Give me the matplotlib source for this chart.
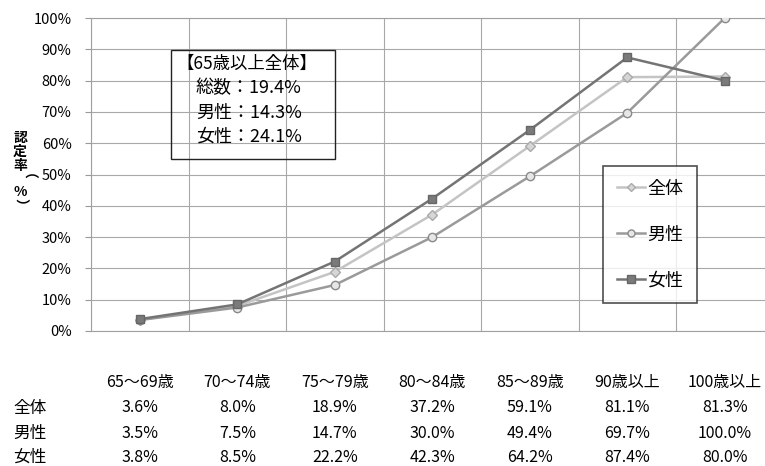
import matplotlib
matplotlib.use("Agg")
import matplotlib.pyplot as plt
from matplotlib.transforms import blended_transform_factory

plt.rcParams['font.family'] = ['Noto Sans CJK JP', 'DejaVu Sans']

categories = ["65〜69歳", "70〜74歳", "75〜79歳", "80〜84歳", "85〜89歳", "90歳以上", "100歳以上"]
series_names = ["全体", "男性", "女性"]
total = [3.6, 8.0, 18.9, 37.2, 59.1, 81.1, 81.3]
male = [3.5, 7.5, 14.7, 30.0, 49.4, 69.7, 100.0]
female = [3.8, 8.5, 22.2, 42.3, 64.2, 87.4, 80.0]
yticks = [0, 10, 20, 30, 40, 50, 60, 70, 80, 90, 100]
summary_lines = ["【65歳以上全体】", "総数：19.4%", "男性：14.3%", "女性：24.1%"]
ylabel_text = "認定率"
ylabel_unit = ["（", "%", "）"]

W, H = 765, 466
fig = plt.figure(figsize=(W / 100, H / 100), dpi=100)
left, right, top, bottom = 91, 773.5, 18, 331
ax = fig.add_axes([left / W, 1 - bottom / H, (right - left) / W, (bottom - top) / H])

x = list(range(len(categories)))
styles = [
    dict(color="#c4c4c4", marker="D", markersize=5, markerfacecolor="#d6d6d6", markeredgecolor="#aaaaaa"),
    dict(color="#9a9a9a", marker="o", markersize=6, markerfacecolor="#e6e6e6", markeredgecolor="#8a8a8a"),
    dict(color="#747474", marker="s", markersize=6, markerfacecolor="#7a7a7a", markeredgecolor="#666666"),
]
handles = []
for vals, name, st in zip([total, male, female], series_names, styles):
    h, = ax.plot(x, vals, lw=1.8, label=name, zorder=3, **st)
    handles.append(h)

ax.set_xlim(-0.5, len(categories) - 0.5)
ax.set_ylim(0, 100)
ax.set_yticks(yticks)
ax.set_yticklabels([f"{v}%" for v in yticks], fontsize=10.5)
ax.set_xticks([i + 0.5 for i in range(-1, len(categories))])
ax.set_xticklabels([])
ax.tick_params(axis="x", length=0)
ax.tick_params(axis="y", length=4, color="#999999", pad=10)
ax.grid(True, color="#a8a8a8", lw=0.8)
ax.set_axisbelow(True)
for s in ax.spines.values():
    s.set_color("#a0a0a0")
    s.set_linewidth(0.8)
ax.spines["right"].set_visible(False)

# vertical axis title: kanji stacked in one column, unit below with brackets turned
fig.text(20 / W, 1 - 131 / H, "\n".join(ylabel_text), ha="center", va="top",
         fontsize=10, fontweight="bold", linespacing=1.0)
for i, ch in enumerate(ylabel_unit):
    rot = -90 if ch in "（）" else 0
    fig.text(20 / W, 1 - (180 + i * 12.5) / H, ch, ha="center", va="center",
             fontsize=10, fontweight="bold", rotation=rot)

# summary box
box_l, box_t, box_r, box_b = 171, 50, 335, 159
ax.add_artist(plt.Rectangle((box_l / W, 1 - box_b / H), (box_r - box_l) / W, (box_b - box_t) / H,
                            transform=fig.transFigure, facecolor="none", edgecolor="#222222",
                            lw=1, zorder=5))
fig.text(176 / W, 1 - 64 / H, summary_lines[0], fontsize=12.5, va="center", ha="left")
for i, line in enumerate(summary_lines[1:]):
    fig.text(196 / W, 1 - (88 + i * 24.5) / H, line, fontsize=13, va="center", ha="left")

# legend
leg = ax.legend(handles=handles, loc="upper left",
                bbox_to_anchor=(603 / W, 1 - 166 / H), bbox_transform=fig.transFigure,
                borderaxespad=0, frameon=True, fancybox=False, edgecolor="#222222", fontsize=13,
                labelspacing=1.55, handlelength=1.55, handletextpad=0.15,
                borderpad=0.75, numpoints=1, markerscale=0.85)
leg.get_frame().set_linewidth(1.2)

# data table under the chart
tr = blended_transform_factory(ax.transData, fig.transFigure)
for i, c in enumerate(categories):
    fig.text(i, 1 - 383 / H, c, transform=tr, ha="center", va="center", fontsize=11.5)
row_y = [408, 433, 457]
for name, vals, yy in zip(series_names, [total, male, female], row_y):
    fig.text(13 / W, 1 - yy / H, name, ha="left", va="center", fontsize=12)
    for i, v in enumerate(vals):
        fig.text(i, 1 - yy / H, f"{v:.1f}%", transform=tr, ha="center", va="center", fontsize=11.5)

fig.savefig("out.png", dpi=100)
